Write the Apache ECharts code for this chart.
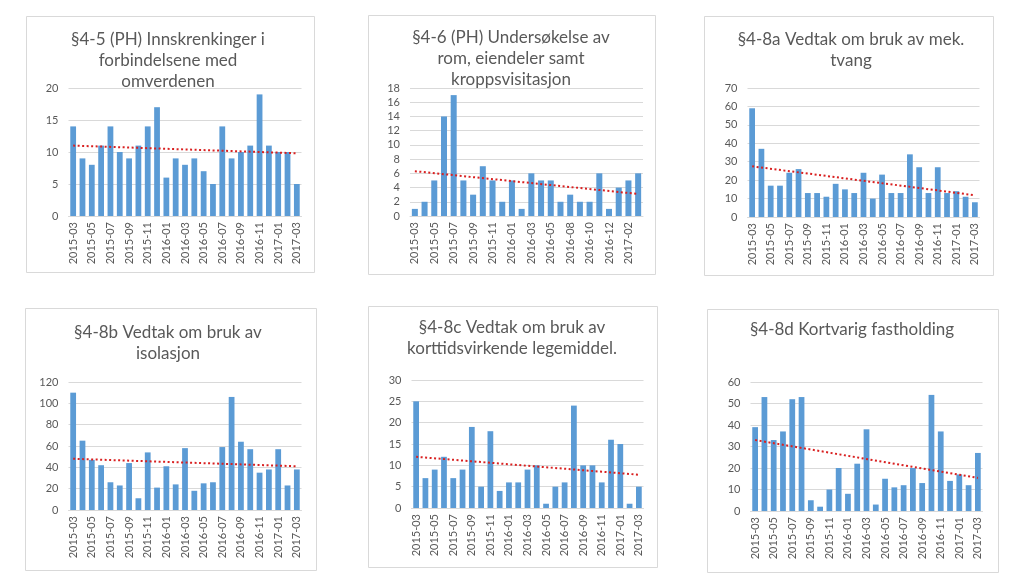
<!DOCTYPE html>
<html>
<head>
<meta charset="utf-8">
<script src="https://cdn.jsdelivr.net/npm/echarts@6/dist/echarts.min.js"></script>
<style>
  html, body { margin: 0; padding: 0; background: #ffffff; }
  #chart { width: 1024px; height: 586px; }
</style>
</head>
<body>
<div id="chart"></div>
<script>
// ---- Data ----
const months25 = ['2015-03','2015-04','2015-05','2015-06','2015-07','2015-08','2015-09','2015-10','2015-11','2015-12',
  '2016-01','2016-02','2016-03','2016-04','2016-05','2016-06','2016-07','2016-08','2016-09','2016-10','2016-11','2016-12',
  '2017-01','2017-02','2017-03'];
const months24 = ['2015-03','2015-04','2015-05','2015-06','2015-07','2015-08','2015-09','2015-10','2015-11','2015-12',
  '2016-01','2016-02','2016-03','2016-04','2016-05','2016-06','2016-08','2016-09','2016-10','2016-11','2016-12',
  '2017-01','2017-02','2017-03'];

const titles = [
  '§4-5 (PH) Innskrenkinger i\nforbindelsene med\nomverdenen',
  '§4-6 (PH) Undersøkelse av\nrom, eiendeler samt\nkroppsvisitasjon',
  '§4-8a Vedtak om bruk av mek.\ntvang',
  '§4-8b Vedtak om bruk av\nisolasjon',
  '§4-8c Vedtak om bruk av\nkorttidsvirkende legemiddel.',
  '§4-8d Kortvarig fastholding'
];

const v45  = [14, 9, 8, 11, 14, 10, 9, 11, 14, 17, 6, 9, 8, 9, 7, 5, 14, 9, 10, 11, 19, 11, 10, 10, 5];
const v46  = [1, 2, 5, 14, 17, 5, 3, 7, 5, 2, 5, 1, 6, 5, 5, 2, 3, 2, 2, 6, 1, 4, 5, 6];
const v48a = [59, 37, 17, 17, 24, 26, 13, 13, 11, 18, 15, 13, 24, 10, 23, 13, 13, 34, 27, 13, 27, 13, 14, 11, 8];
const v48b = [110, 65, 47, 42, 26, 23, 44, 11, 54, 21, 41, 24, 58, 18, 25, 26, 59, 106, 64, 57, 35, 38, 57, 23, 38];
const v48c = [25, 7, 9, 12, 7, 9, 19, 5, 18, 4, 6, 6, 9, 10, 1, 5, 6, 24, 10, 10, 6, 16, 15, 1, 5];
const v48d = [39, 53, 33, 37, 52, 53, 5, 2, 10, 20, 8, 22, 38, 3, 15, 11, 12, 20, 13, 54, 37, 14, 17, 12, 27];

// trend line end values (first / last category)
const trendStart = [11.0, 6.3, 27.5, 48, 12.0, 33];
const trendEnd   = [9.8, 3.1, 11.8, 41, 7.8, 15.4];

const yMax      = [20, 18, 70, 120, 30, 60];
const yInterval = [5, 2, 10, 20, 5, 10];

// ---- Layout ----
const panels = [
  {box:[26, 16, 288, 256],  grid:{left:68.5, top:88, width:233, height:128},  title:{cx:168, top:29.5}},
  {box:[368, 15, 287, 259], grid:{left:410, top:88, width:233, height:128},   title:{cx:511, top:27}},
  {box:[704, 16, 289, 259], grid:{left:747.5, top:88, width:232, height:129}, title:{cx:851, top:29.5}},
  {box:[25, 308, 291, 262], grid:{left:68.5, top:382, width:233, height:128}, title:{cx:168, top:322.5}},
  {box:[368, 306, 289, 261],grid:{left:411.5, top:380, width:232, height:128},title:{cx:512, top:317.5}},
  {box:[707, 309, 291, 263],grid:{left:750.5, top:382, width:232, height:129},title:{cx:852, top:319.5}}
];

const cats = [months25, months24, months25, months25, months25, months25];
const vals = [v45, v46, v48a, v48b, v48c, v48d];

const FONT = 'Lato, "Open Sans", sans-serif';
const TXT = '#595959';

const option = {
  animation: false,
  backgroundColor: '#ffffff',
  title: [],
  grid: [],
  xAxis: [],
  yAxis: [],
  series: [],
  graphic: []
};

panels.forEach((p, i) => {
  option.graphic.push({
    type: 'rect', silent: true, z: -1,
    shape: {x: p.box[0] + 0.5, y: p.box[1] + 0.5, width: p.box[2], height: p.box[3]},
    style: {fill: '#ffffff', stroke: '#d9d9d9', lineWidth: 1}
  });
  option.title.push({
    text: titles[i],
    left: p.title.cx,
    top: p.title.top,
    textAlign: 'center',
    padding: 0,
    textStyle: {fontFamily: FONT, fontSize: 17, fontWeight: 'normal', color: TXT, lineHeight: 21}
  });
  option.grid.push(Object.assign({containLabel: false}, p.grid));
  option.xAxis.push({
    type: 'category', gridIndex: i, data: cats[i],
    axisLine: {show: true, lineStyle: {color: '#d9d9d9', width: 1}},
    axisTick: {show: false},
    axisLabel: {interval: 1, rotate: 90, margin: 6, fontFamily: FONT, fontSize: 11, color: TXT}
  });
  option.yAxis.push({
    type: 'value', gridIndex: i, min: 0, max: yMax[i], interval: yInterval[i],
    axisLine: {show: false}, axisTick: {show: false},
    splitLine: {lineStyle: {color: '#d9d9d9', width: 1}},
    axisLabel: {margin: 10, fontFamily: FONT, fontSize: 11, color: TXT}
  });
  const c = cats[i];
  option.series.push({
    type: 'bar', xAxisIndex: i, yAxisIndex: i, data: vals[i],
    barCategoryGap: '38%',
    itemStyle: {color: '#5b9bd5'},
    markLine: {
      silent: true, symbol: 'none', animation: false,
      label: {show: false},
      lineStyle: {color: '#d92020', width: 2, type: [2, 2.5]},
      data: [[{coord: [c[0], trendStart[i]]}, {coord: [c[c.length - 1], trendEnd[i]]}]]
    }
  });
});

const chart = echarts.init(document.getElementById('chart'), null, {renderer: 'canvas'});
chart.setOption(option);
</script>
</body>
</html>
